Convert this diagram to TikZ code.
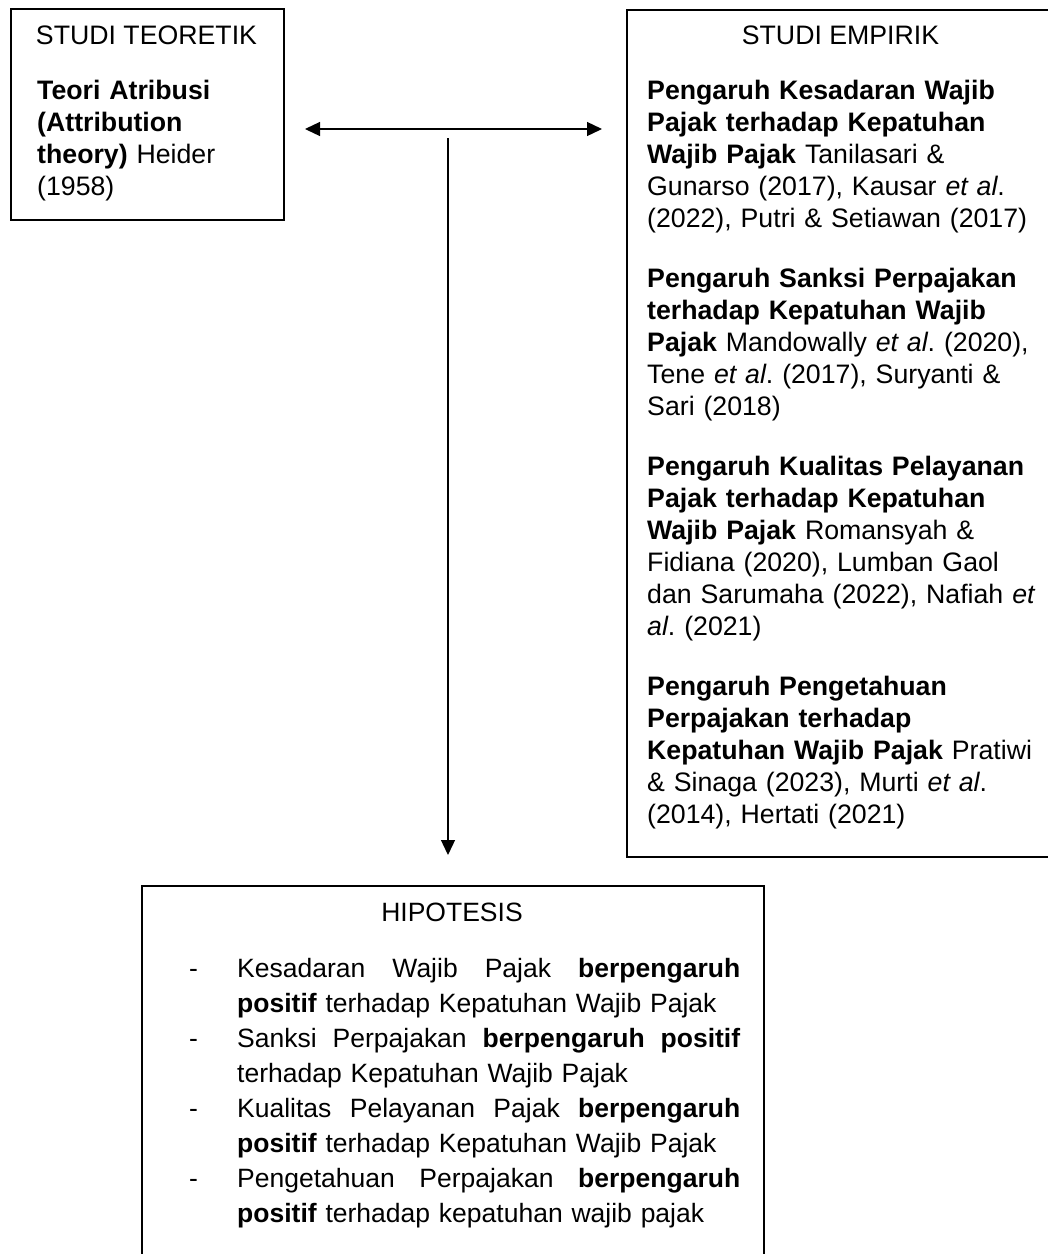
\documentclass[tikz,border=0pt]{standalone}
\usepackage{fontspec}
\setmainfont{Liberation Sans}
\usetikzlibrary{arrows.meta}
\frenchspacing
\begin{document}
\begin{tikzpicture}[x=1pt,y=1pt,
  box/.style={draw=black, line width=2pt, anchor=north west, inner sep=0pt},
  txt/.style={anchor=base west, inner sep=0pt, align=left, text width=#1, font=\fontsize{26.7}{32}\selectfont\frenchspacing},
  ttl/.style={anchor=base, inner sep=0pt, font=\fontsize{26.7}{32}\selectfont},
  htxt/.style={anchor=base west, inner sep=0pt, align=left, text width=503pt, font=\fontsize{26.5}{35}\selectfont},
  dsh/.style={anchor=base west, inner sep=0pt, font=\fontsize{26.5}{35}\selectfont},
  conn/.style={line width=1.3pt, -{Triangle[length=15pt,width=14pt]}},
  conn2/.style={line width=1.3pt, {Triangle[length=15pt,width=14pt]}-{Triangle[length=15pt,width=14pt]}}
  ]
\clip (0,0) rectangle (1048,-1254);
\fill[white] (0,0) rectangle (1048,-1254);
% boxes
\node[box, minimum width=273pt, minimum height=211pt] (teo) at (10,-8) {};
\node[box, minimum width=430pt, minimum height=847pt] (emp) at (626,-9) {};
\node[box, minimum width=622pt, minimum height=420pt] (hyp) at (141,-885) {};
% left box text
\node[ttl] (teoT) at (146.5,-44) {STUDI TEORETIK};
\node[txt=240pt] (teo1) at (37,-99) {\textbf{Teori Atribusi}\\\textbf{(Attribution}\\\textbf{theory)} Heider\\(1958)};
% right box text
\node[ttl] (empT) at (840.5,-44) {STUDI EMPIRIK};
\node[txt=400pt] (e1) at (647,-99) {\textbf{Pengaruh Kesadaran Wajib}\\\textbf{Pajak terhadap Kepatuhan}\\\textbf{Wajib Pajak} Tanilasari \&\\Gunarso (2017), Kausar \textit{et al}.\\(2022), Putri \& Setiawan (2017)};
\node[txt=400pt] (e2) at (647,-287) {\textbf{Pengaruh Sanksi Perpajakan}\\\textbf{terhadap Kepatuhan Wajib}\\\textbf{Pajak} Mandowally \textit{et al}. (2020),\\Tene \textit{et al}. (2017), Suryanti \&\\Sari (2018)};
\node[txt=400pt] (e3) at (647,-475) {\textbf{Pengaruh Kualitas Pelayanan}\\\textbf{Pajak terhadap Kepatuhan}\\\textbf{Wajib Pajak} Romansyah \&\\Fidiana (2020), Lumban Gaol\\dan Sarumaha (2022), Nafiah \textit{et}\\\textit{al}. (2021)};
\node[txt=400pt] (e4) at (647,-695) {\textbf{Pengaruh Pengetahuan}\\\textbf{Perpajakan terhadap}\\\textbf{Kepatuhan Wajib Pajak} Pratiwi\\\& Sinaga (2023), Murti \textit{et al}.\\(2014), Hertati (2021)};
% bottom box text
\node[ttl, font=\fontsize{26.5}{35}\selectfont] (hypT) at (452,-921.7) {HIPOTESIS};
\node[dsh] (d1) at (189,-977) {-};
\node[htxt] (h1) at (237,-977) {\hbox to 503pt{Kesadaran\hfill Wajib\hfill Pajak\hfill \textbf{berpengaruh}}\\\textbf{positif} terhadap Kepatuhan Wajib Pajak};
\node[dsh] (d2) at (189,-1047) {-};
\node[htxt] (h2) at (237,-1047) {\hbox to 503pt{Sanksi\hfill Perpajakan\hfill \textbf{berpengaruh}\hfill \textbf{positif}}\\terhadap Kepatuhan Wajib Pajak};
\node[dsh] (d3) at (189,-1117) {-};
\node[htxt] (h3) at (237,-1117) {\hbox to 503pt{Kualitas\hfill Pelayanan\hfill Pajak\hfill \textbf{berpengaruh}}\\\textbf{positif} terhadap Kepatuhan Wajib Pajak};
\node[dsh] (d4) at (189,-1187) {-};
\node[htxt] (h4) at (237,-1187) {\hbox to 503pt{Pengetahuan\hfill Perpajakan\hfill \textbf{berpengaruh}}\\\textbf{positif} terhadap kepatuhan wajib pajak};
% connectors
\coordinate (hl) at (305,-129);
\coordinate (hr) at (602,-129);
\coordinate (vt) at (448,-138);
\draw[conn2] (hl) -- (hr);
\draw[conn, shorten >=30pt] (vt) -- (vt |- hyp.north);
\end{tikzpicture}
\end{document}
